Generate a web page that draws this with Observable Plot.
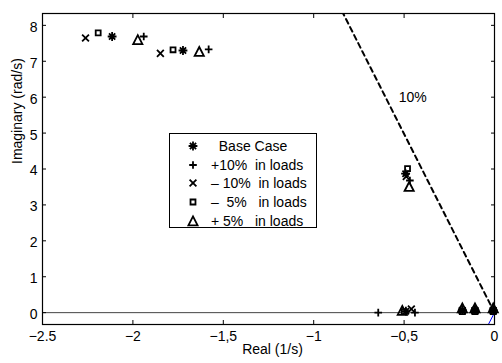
<!DOCTYPE html>
<html><head><meta charset="utf-8">
<script src="https://cdn.jsdelivr.net/npm/d3@7"></script>
<script src="https://cdn.jsdelivr.net/npm/@observablehq/plot@0.6"></script>
<style>
body{margin:0;background:#fff;font-family:"Liberation Sans",Arial,sans-serif;}
#wrap{position:relative;width:502px;height:363px;overflow:hidden;}
#legend{position:absolute;left:169px;top:133px;width:148px;height:95px;border:1px solid #000;background:#fff;box-sizing:border-box;font-size:14px;color:#000;}
#legend .row{position:absolute;left:0;width:146px;height:18px;line-height:18px;}
#legend .row svg{position:absolute;left:15px;top:0;}
#legend .row span{position:absolute;left:41px;top:0;white-space:pre;}
</style>
</head><body><div id="wrap"></div>
<script>
// ---- data ----
const seriesNames = ["  Base Case", "+10%  in loads", "\u2013 10%  in loads", "\u2013  5%   in loads", "+ 5%   in loads"];

const baseRe = [-2.115, -1.723, -0.492, -0.49, -0.178, -0.108, -0.007];
const baseIm = [7.69, 7.30, 3.87, 0.04, 0.07, 0.07, 0.07];

const plus10Re = [-1.940, -1.581, -0.468, -0.643, -0.44, -0.178, -0.108, -0.007];
const plus10Im = [7.69, 7.33, 3.68, 0.0, 0.0, 0.10, 0.10, 0.10];

const minus10Re = [-2.262, -1.848, -0.488, -0.46, -0.178, -0.108, -0.007];
const minus10Im = [7.65, 7.22, 3.79, 0.10, 0.05, 0.05, 0.05];

const minus5Re = [-2.192, -1.778, -0.481, -0.50, -0.178, -0.108, -0.007];
const minus5Im = [7.79, 7.32, 4.01, 0.03, 0.03, 0.03, 0.03];

const plus5Re = [-1.973, -1.633, -0.472, -0.51, -0.178, -0.108, -0.007];
const plus5Im = [7.60, 7.27, 3.51, 0.06, 0.13, 0.13, 0.13];

// 10% damping line and its mirror segment
const dampRe = [0, -0.837];
const dampIm = [0, 8.33];
const mirrorRe = [0, -0.034];
const mirrorIm = [0, -0.33];
const dampLabel = ["10%"];
const dampLabelRe = [-0.53];
const dampLabelIm = [6.0];

const xTicks = [-2.5, -2, -1.5, -1, -0.5, 0];
const xTickLabels = ["\u22122.5", "\u22122", "\u22121,5", "\u22121", "\u22120,5", "0"];
const yTicks = [0, 1, 2, 3, 4, 5, 6, 7, 8];
const yTickLabels = ["0", "1", "2", "3", "4", "5", "6", "7", "8"];
const xLabel = "Real (1/s)";
const yLabel = "Imaginary (rad/s)";

// ---- MATLAB-like marker symbols ----
const R = s => Math.sqrt(s / Math.PI);
const symAsterisk = {draw(c, s){ const r = R(s)*1.1, d = r*Math.SQRT1_2;
  c.moveTo(-r,0); c.lineTo(r,0); c.moveTo(0,-r); c.lineTo(0,r);
  c.moveTo(-d,-d); c.lineTo(d,d); c.moveTo(-d,d); c.lineTo(d,-d); }};
const symPlus = {draw(c, s){ const r = R(s)*0.95;
  c.moveTo(-r,0); c.lineTo(r,0); c.moveTo(0,-r); c.lineTo(0,r); }};
const symTimes = {draw(c, s){ const r = R(s)*0.85;
  c.moveTo(-r,-r); c.lineTo(r,r); c.moveTo(-r,r); c.lineTo(r,-r); }};
const symSquare = {draw(c, s){ const r = R(s)*0.62;
  c.moveTo(-r,-r); c.lineTo(r,-r); c.lineTo(r,r); c.lineTo(-r,r); c.closePath(); }};
const symTriangle = {draw(c, s){ const r = R(s)*1.15;
  c.moveTo(0,-r); c.lineTo(r,r*0.95); c.lineTo(-r,r*0.95); c.closePath(); }};
const symbols = [symAsterisk, symPlus, symTimes, symSquare, symTriangle];

const series = [
  [baseRe, baseIm], [plus10Re, plus10Im], [minus10Re, minus10Im], [minus5Re, minus5Im], [plus5Re, plus5Im]
];
const rows = (xs, ys) => xs.map((x, i) => ({x, y: ys[i]}));

const dotMarks = series.map(([xs, ys], k) =>
  Plot.dot(rows(xs, ys), {x: "x", y: "y", symbol: symbols[k], r: 4, fill: "none", stroke: "black", strokeWidth: 1.8})
);

const chart = Plot.plot({
  width: 502, height: 363,
  marginLeft: 42, marginRight: 8, marginTop: 13, marginBottom: 39,
  style: {fontFamily: '"Liberation Sans", Arial, sans-serif', fontSize: "14px", background: "white", color: "black"},
  x: {domain: [-2.5, 0]},
  y: {domain: [-0.33, 8.33]},
  marks: [
    Plot.ruleY([0], {stroke: "#444", strokeWidth: 1}),
    Plot.line(rows(dampRe, dampIm), {x: "x", y: "y", stroke: "black", strokeWidth: 2, strokeDasharray: "5,4", clip: true}),
    Plot.line(rows(mirrorRe, mirrorIm), {x: "x", y: "y", stroke: "#0000ff", strokeWidth: 1, clip: true}),
    ...dotMarks,
    Plot.text(dampLabel, {x: (d, i) => dampLabelRe[i], y: (d, i) => dampLabelIm[i], text: d => d, textAnchor: "start", fontSize: 14, fill: "black"}),
    // tick labels
    Plot.axisX(xTicks, {anchor: "bottom", tickSize: 0, tickPadding: 7, tickFormat: d => xTickLabels[xTicks.indexOf(d)], label: null}),
    Plot.axisY(yTicks, {anchor: "left", tickSize: 0, tickPadding: 5, dy: 2, tickFormat: d => yTickLabels[yTicks.indexOf(d)], label: null}),
    // inward tick marks on all sides
    Plot.axisX(xTicks, {anchor: "bottom", tickSize: 4, dy: -4, fill: "none", label: null}),
    Plot.axisX(xTicks, {anchor: "top", tickSize: 4, dy: 4, fill: "none", label: null}),
    Plot.axisY(yTicks, {anchor: "left", tickSize: 4, dx: 4, fill: "none", label: null}),
    Plot.axisY(yTicks, {anchor: "right", tickSize: 4, dx: -4, fill: "none", label: null}),
    // axis titles
    Plot.text([xLabel], {frameAnchor: "bottom", dy: 29, dx: 4, text: d => d, fontSize: 14, fill: "black"}),
    Plot.text([yLabel], {frameAnchor: "left", dx: -25, dy: -5, rotate: -90, text: d => d, fontSize: 14, fill: "black"}),
    Plot.frame({stroke: "black", strokeWidth: 1.2})
  ]
});
const wrap = document.getElementById("wrap");
wrap.appendChild(chart);

// ---- legend (inside the axes, like the original) ----
const legend = document.createElement("div");
legend.id = "legend";
const rowCenters = [12.7, 31.5, 50.2, 68.9, 87.6];
seriesNames.forEach((name, k) => {
  const row = document.createElement("div");
  row.className = "row";
  row.style.top = (rowCenters[k] - 9 - 1) + "px";
  const svg = d3.create("svg").attr("width", 16).attr("height", 18);
  svg.append("path")
    .attr("transform", "translate(8,9)")
    .attr("d", d3.symbol(symbols[k], Math.PI * 16)())
    .attr("fill", "none").attr("stroke", "black").attr("stroke-width", 1.8);
  row.appendChild(svg.node());
  const span = document.createElement("span");
  span.textContent = name;
  row.appendChild(span);
  legend.appendChild(row);
});
wrap.appendChild(legend);
</script>
</body></html>
